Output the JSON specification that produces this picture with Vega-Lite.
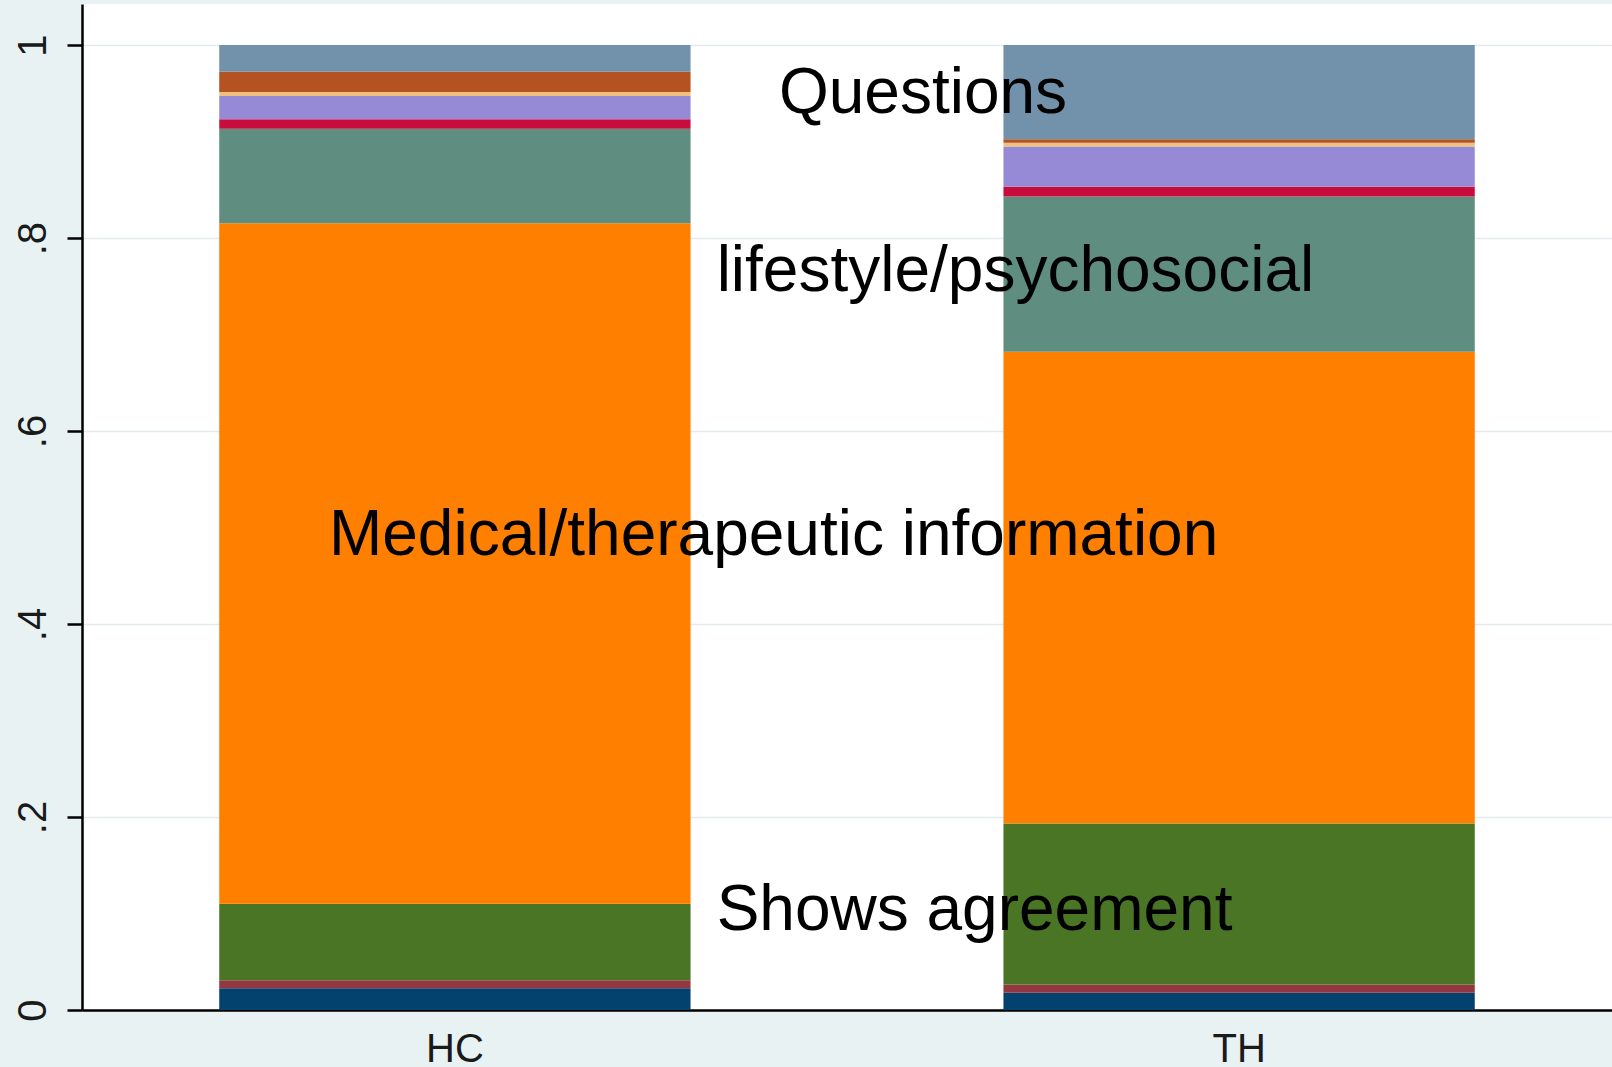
{
  "$schema": "https://vega.github.io/schema/vega-lite/v6.json",
  "autosize": {"type": "none"},
  "padding": {"left": 82, "top": 4, "right": 0, "bottom": 57},
  "width": 1530,
  "height": 1006,
  "background": "#e8f2f3",
  "config": {
    "view": {"fill": "white", "stroke": null},
    "font": "Liberation Sans"
  },
  "datasets": {
    "bars": [
      {"group": "HC", "k": 1, "cat": "Social talk", "share": 0.0226},
      {"group": "HC", "k": 2, "cat": "Shows concern", "share": 0.0083},
      {"group": "HC", "k": 3, "cat": "Shows agreement", "share": 0.0791},
      {"group": "HC", "k": 4, "cat": "Medical/therapeutic information", "share": 0.7054},
      {"group": "HC", "k": 5, "cat": "lifestyle/psychosocial", "share": 0.0980},
      {"group": "HC", "k": 6, "cat": "Counseling", "share": 0.0098},
      {"group": "HC", "k": 7, "cat": "Orientation", "share": 0.0240},
      {"group": "HC", "k": 8, "cat": "Partnership", "share": 0.0042},
      {"group": "HC", "k": 9, "cat": "Checks", "share": 0.0211},
      {"group": "HC", "k": 10, "cat": "Questions", "share": 0.0275},
      {"group": "TH", "k": 1, "cat": "Social talk", "share": 0.0178},
      {"group": "TH", "k": 2, "cat": "Shows concern", "share": 0.0086},
      {"group": "TH", "k": 3, "cat": "Shows agreement", "share": 0.1668},
      {"group": "TH", "k": 4, "cat": "Medical/therapeutic information", "share": 0.4889},
      {"group": "TH", "k": 5, "cat": "lifestyle/psychosocial", "share": 0.1609},
      {"group": "TH", "k": 6, "cat": "Counseling", "share": 0.0103},
      {"group": "TH", "k": 7, "cat": "Orientation", "share": 0.0415},
      {"group": "TH", "k": 8, "cat": "Partnership", "share": 0.0041},
      {"group": "TH", "k": 9, "cat": "Checks", "share": 0.0035},
      {"group": "TH", "k": 10, "cat": "Questions", "share": 0.0976}
    ],
    "labels": [
      {"label": "Questions", "xpos": 0.4555, "ypos": 0.9294},
      {"label": "lifestyle/psychosocial", "xpos": 0.4148, "ypos": 0.7453},
      {"label": "Medical/therapeutic information", "xpos": 0.1614, "ypos": 0.4718},
      {"label": "Shows agreement", "xpos": 0.4148, "ypos": 0.0834}
    ]
  },
  "layer": [
    {
      "data": {"name": "bars"},
      "mark": {"type": "bar"},
      "encoding": {
        "x": {
          "field": "group", "type": "nominal",
          "scale": {"type": "band", "paddingInner": 0.399, "paddingOuter": 0.175},
          "axis": {
            "title": null, "labelAngle": 0, "labelFontSize": 40, "labelColor": "#1a1a1a",
            "labelFont": "Liberation Sans", "ticks": false, "tickSize": 0, "labelPadding": 19,
            "domainColor": "#000000", "domainWidth": 2.5, "grid": false
          }
        },
        "y": {
          "field": "share", "type": "quantitative", "stack": "zero",
          "scale": {"domain": [0, 1.0426], "nice": false, "zero": true},
          "axis": {
            "title": null, "values": [0, 0.2, 0.4, 0.6, 0.8, 1],
            "labelExpr": "datum.value == 0 ? '0' : datum.value == 1 ? '1' : '.' + round(datum.value * 10)",
            "labelAngle": -90, "labelAlign": "center", "labelBaseline": "alphabetic",
            "labelFontSize": 40, "labelColor": "#1a1a1a", "labelFont": "Liberation Sans",
            "labelPadding": 22, "tickSize": 15, "tickColor": "#000000", "tickWidth": 2.5,
            "domainColor": "#000000", "domainWidth": 2.5,
            "grid": true, "gridColor": "#e2eaed", "gridWidth": 1.5
          }
        },
        "color": {
          "field": "cat", "type": "nominal", "legend": null,
          "scale": {
            "domain": ["Social talk", "Shows concern", "Shows agreement", "Medical/therapeutic information", "lifestyle/psychosocial", "Counseling", "Orientation", "Partnership", "Checks", "Questions"],
            "range": ["#03426e", "#933841", "#497524", "#ff7f00", "#5f8e80", "#c80c3c", "#968ad6", "#f0c07e", "#b45222", "#7292ab"]
          }
        },
        "order": {"field": "k", "type": "quantitative", "sort": "ascending"}
      }
    },
    {
      "data": {"name": "labels"},
      "mark": {"type": "text", "align": "left", "baseline": "alphabetic", "fontSize": 64, "font": "Liberation Sans", "color": "#000000"},
      "encoding": {
        "x": {"field": "xpos", "type": "quantitative", "scale": {"domain": [0, 1], "nice": false, "zero": false}, "axis": null},
        "y": {"field": "ypos", "type": "quantitative"},
        "text": {"field": "label", "type": "nominal"}
      }
    }
  ],
  "resolve": {"scale": {"x": "independent"}}
}
